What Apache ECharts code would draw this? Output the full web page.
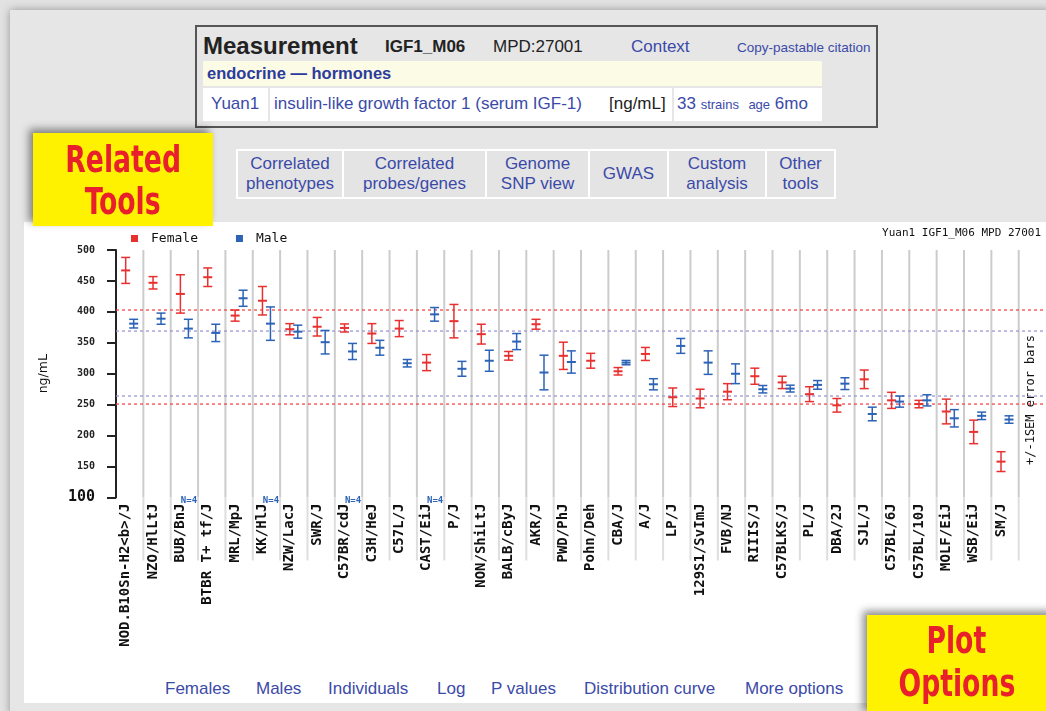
<!DOCTYPE html>
<html>
<head>
<meta charset="utf-8">
<title>IGF1_M06</title>
<script src="https://cdn.jsdelivr.net/npm/echarts@6/dist/echarts.min.js"></script>
<style>
  body { margin:0; width:1046px; height:711px; overflow:hidden; background:#e2e2e2; position:relative; font-family:'Liberation Sans', Arial, sans-serif; }
  .abs { position:absolute; white-space:nowrap; }
  .panel { left:10px; top:10px; width:1040px; height:705px; background:#e6e6e6; box-shadow:0 0 8px rgba(0,0,0,0.35); }
  .white { left:24px; top:222px; width:1022px; height:481px; background:#fff; }
  .hdr { left:195px; top:25px; width:679px; height:99px; border:2px solid #555; background:#e6e6e6; }
  .t { position:absolute; white-space:nowrap; line-height:20px; color:#222; }
  .blue { color:#3b4aa8; }
  .cell { position:absolute; background:#fff; }
  .btnbar { left:236px; top:149px; width:600px; height:50px; background:#fff; }
  .btn { position:absolute; top:2px; height:46px; background:#e4e4e4; color:#3b4aa8; font-size:17px; line-height:20px; text-align:center; display:flex; align-items:center; justify-content:center; }
  .note { position:absolute; background:#fff200; box-shadow:-4px -4px 8px rgba(0,0,0,0.45); color:#e8202c; font-weight:bold; text-align:center; z-index:5; }
  .note span { display:inline-block; transform:scaleX(0.78); font-family:'DejaVu Sans Condensed','Liberation Sans',sans-serif; }
  .links span { position:absolute; top:679px; line-height:20px; font-size:17px; color:#3b4aa8; }
  #chart { position:absolute; left:0; top:0; width:1046px; height:711px; z-index:3; }
</style>
</head>
<body>
<div class="abs panel"></div>
<div class="abs white"></div>

<!-- measurement box -->
<div class="abs hdr"></div>
<div class="t" style="left:203px; top:34px; font-size:24px; line-height:24px; font-weight:bold;">Measurement</div>
<div class="t" style="left:385px; top:37px; font-size:17px; font-weight:bold;">IGF1_M06</div>
<div class="t" style="left:493px; top:37px; font-size:17px;">MPD:27001</div>
<div class="t blue" style="left:631px; top:37px; font-size:17px;">Context</div>
<div class="t blue" style="left:737px; top:38px; font-size:13.5px;">Copy-pastable citation</div>
<div class="cell" style="left:203px; top:61px; width:619px; height:25px; background:#fbfbe6;"></div>
<div class="t" style="left:207px; top:63px; font-size:16.5px; font-weight:bold; color:#2c3b9c;">endocrine — hormones</div>
<div class="cell" style="left:203px; top:88px; width:65px; height:33px;"></div>
<div class="cell" style="left:270px; top:88px; width:402px; height:33px;"></div>
<div class="cell" style="left:674px; top:88px; width:148px; height:33px;"></div>
<div class="t blue" style="left:211px; top:94px; font-size:17px;">Yuan1</div>
<div class="t blue" style="left:274px; top:94px; font-size:17px;">insulin-like growth factor 1 (serum IGF-1)</div>
<div class="t" style="left:609px; top:94px; font-size:17px;">[ng/mL]</div>
<div class="t blue" style="left:677px; top:94px; font-size:17px;">33 <span style="font-size:13px;">strains</span> &nbsp;<span style="font-size:13px;">age</span> 6mo</div>

<!-- related tools buttons -->
<div class="abs btnbar">
  <div class="btn" style="left:2px; width:104px;">Correlated<br>phenotypes</div>
  <div class="btn" style="left:108px; width:141px;">Correlated<br>probes/genes</div>
  <div class="btn" style="left:251px; width:101px;">Genome<br>SNP view</div>
  <div class="btn" style="left:354px; width:77px;">GWAS</div>
  <div class="btn" style="left:433px; width:96px;">Custom<br>analysis</div>
  <div class="btn" style="left:531px; width:67px;">Other<br>tools</div>
</div>

<div class="note" style="left:33px; top:133px; width:180px; height:93px; font-size:38px; line-height:42px; padding-top:5px; box-sizing:border-box;"><span>Related</span><br><span>Tools</span></div>

<div class="links">
  <span style="left:165px;">Females</span>
  <span style="left:256px;">Males</span>
  <span style="left:328px;">Individuals</span>
  <span style="left:437px;">Log</span>
  <span style="left:491px;">P values</span>
  <span style="left:584px;">Distribution curve</span>
  <span style="left:745px;">More options</span>
</div>

<div class="note" style="left:867px; top:615px; width:190px; height:100px; font-size:38px; line-height:43px; padding:4px 11px 0 0; box-sizing:border-box;"><span>Plot</span><br><span>Options</span></div>

<div id="chart"></div>

<script type="text/javascript">
    // strains, ordered as in the plot
    var strains = ['NOD.B10Sn-H2<b>/J', 'NZO/HlLtJ', 'BUB/BnJ', 'BTBR T+ tf/J', 'MRL/MpJ', 'KK/HlJ', 'NZW/LacJ',
        'SWR/J', 'C57BR/cdJ', 'C3H/HeJ', 'C57L/J', 'CAST/EiJ', 'P/J', 'NON/ShiLtJ', 'BALB/cByJ', 'AKR/J',
        'PWD/PhJ', 'Pohn/Deh', 'CBA/J', 'A/J', 'LP/J', '129S1/SvImJ', 'FVB/NJ', 'RIIIS/J', 'C57BLKS/J',
        'PL/J', 'DBA/2J', 'SJL/J', 'C57BL/6J', 'C57BL/10J', 'MOLF/EiJ', 'WSB/EiJ', 'SM/J'];

    // means and +/-1 SEM, ng/mL
    var femaleMean = [467, 447, 429, 456, 394, 418, 372, 376, 374, 365, 373, 318, 385, 364, 329, 380,
        329, 321, 304, 332, 262, 260, 271, 296, 286, 267, 249, 291, 257, 251, 239, 206, 158];
    var femaleSem = [21, 10, 31, 15, 9, 23, 9, 15, 6.5, 16, 13, 13, 27, 16, 7, 8,
        22, 12, 6, 10.5, 15, 15, 13, 13, 10, 12, 11, 15, 13, 6, 20, 19, 16];
    var maleMean = [381, 389, 373, 366, 422, 381, 368, 351, 336, 342, 317, 396, 308, 321, 352, 302,
        319, null, 318, 283, 345, 318, 300, 275, 276, 282, 284, 235, 255, 257, 228, 232, 226];
    var maleSem = [7, 9, 15, 14, 13, 27, 10.5, 19, 13, 12, 6, 11, 12, 17, 13, 28,
        18, null, 3.5, 9, 12, 19, 16, 6, 5.5, 7, 9.5, 11, 9, 9, 14, 6, 6];

    // strains with a small sample note
    var smallN = [2, 5, 8, 11];
    var smallNText = 'N=4';

    // dashed reference lines
    var femaleRef = [403, 251];
    var maleRef = [369, 264];

    var RED = '#e8302f';
    var BLUE = '#2c63b6';
    var MONO = "'DejaVu Sans Mono', monospace";

    var myChart = echarts.init(document.getElementById('chart'));

    function errBars(color, dx) {
        return function (params, api) {
            var i = api.value(0), m = api.value(1), s = api.value(2);
            var c = api.coord([i, m]);
            var hi = api.coord([i, m + s])[1];
            var lo = api.coord([i, m - s])[1];
            var x = c[0] + dx, w = 4.5;
            var st = {stroke: color, lineWidth: 1.5};
            return {
                type: 'group',
                children: [
                    {type: 'line', shape: {x1: x, y1: hi, x2: x, y2: lo}, style: st},
                    {type: 'line', shape: {x1: x - w, y1: hi, x2: x + w, y2: hi}, style: st},
                    {type: 'line', shape: {x1: x - w, y1: lo, x2: x + w, y2: lo}, style: st},
                    {type: 'line', shape: {x1: x - w, y1: c[1], x2: x + w, y2: c[1]}, style: {stroke: color, lineWidth: 2}}
                ]
            };
        };
    }

    function refLines(color) {
        return function (params, api) {
            var y = api.coord([0, api.value(1)])[1];
            var cs = params.coordSys;
            return {
                type: 'line',
                shape: {x1: cs.x, y1: y, x2: cs.x + cs.width + 28, y2: y},
                style: {stroke: color, lineWidth: 1.3, lineDash: [3, 3]}
            };
        };
    }

    var femaleData = [], maleData = [];
    strains.forEach(function (s, i) {
        femaleData.push([i, femaleMean[i], femaleSem[i]]);
        if (maleMean[i] != null) maleData.push([i, maleMean[i], maleSem[i]]);
    });

    myChart.setOption({
        animation: false,
        title: {
            text: 'Yuan1 IGF1_M06 MPD 27001',
            right: 0,
            top: 223,
            textStyle: {fontFamily: MONO, fontSize: 11, fontWeight: 'normal', color: '#111'}
        },
        legend: {
            data: ['Female', 'Male'],
            left: 126,
            top: 227,
            icon: 'rect',
            itemWidth: 7,
            itemHeight: 7,
            itemGap: 38,
            textStyle: {fontFamily: MONO, fontSize: 13, color: '#111', padding: [0, 0, 0, 8]}
        },
        grid: {left: 116, right: 27.3, top: 250, bottom: 213.5, outerBoundsMode: 'none'},
        xAxis: {
            type: 'category',
            data: strains,
            axisLine: {show: false},
            axisTick: {show: false},
            splitLine: {show: false},
            axisLabel: {
                interval: 0,
                rotate: 90,
                margin: 6,
                fontFamily: MONO,
                fontSize: 14,
                fontWeight: 'bold',
                color: '#111',
                formatter: function (v) { return '{a|' + v + '}'; },
                rich: {a: {fontFamily: MONO, fontSize: 14, fontWeight: 'bold', color: '#111', padding: [0, 0, 8, 0]}}
            }
        },
        yAxis: {
            type: 'value',
            min: 100,
            max: 500,
            interval: 50,
            name: 'ng/mL',
            nameLocation: 'middle',
            nameGap: 66,
            nameTextStyle: {fontFamily: "'DejaVu Sans', sans-serif", fontSize: 12.5, color: '#111'},
            axisLine: {show: true, lineStyle: {color: '#222', width: 2}},
            axisTick: {show: true, length: 9, lineStyle: {color: '#222', width: 2}},
            splitLine: {show: false},
            axisLabel: {
                margin: 21,
                fontFamily: MONO,
                fontSize: 10,
                fontWeight: 'bold',
                color: '#222',
                formatter: function (v) { return v === 100 ? '{big|100}' : v; },
                rich: {big: {fontFamily: MONO, fontSize: 15, fontWeight: 'bold', color: '#111'}}
            }
        },
        graphic: [{
            type: 'text',
            x: 1031,
            y: 400,
            rotation: Math.PI / 2,
            style: {text: '+/-1SEM error bars', font: '12px ' + MONO, fill: '#111', align: 'center', verticalAlign: 'middle'}
        }],
        series: [
            {
                // column separators
                type: 'custom',
                silent: true,
                z: 1,
                data: strains.map(function (s, i) { return [i, 100]; }),
                renderItem: function (params, api) {
                    var i = api.value(0);
                    var c = api.coord([i, 100]);
                    var x = c[0] + api.size([1, 0])[0] / 2;
                    var cs = params.coordSys;
                    return {
                        type: 'group',
                        children: [
                            {type: 'line', shape: {x1: x, y1: cs.y, x2: x, y2: cs.y + cs.height}, style: {stroke: '#cccccc', lineWidth: 2}},
                            {type: 'line', shape: {x1: x, y1: cs.y + cs.height, x2: x, y2: cs.y + cs.height + 63}, style: {stroke: '#dedede', lineWidth: 2}}
                        ]
                    };
                }
            },
            {
                type: 'custom', silent: true, z: 2,
                data: femaleRef.map(function (v) { return [0, v]; }),
                renderItem: refLines('#f04a4a')
            },
            {
                type: 'custom', silent: true, z: 2,
                data: maleRef.map(function (v) { return [0, v]; }),
                renderItem: refLines('#9a98d6')
            },
            {
                type: 'custom', silent: true, z: 4,
                data: smallN.map(function (i) { return [i, 100]; }),
                renderItem: function (params, api) {
                    var i = api.value(0);
                    var c = api.coord([i, 100]);
                    var x = c[0] + api.size([1, 0])[0] / 2 - 1;
                    return {type: 'text', x: x, y: c[1] + 3, style: {text: smallNText, font: 'bold 9px ' + MONO, fill: BLUE, align: 'right', verticalAlign: 'middle'}};
                }
            },
            {
                name: 'Female',
                type: 'custom',
                z: 5,
                itemStyle: {color: RED},
                data: femaleData,
                renderItem: errBars(RED, -4)
            },
            {
                name: 'Male',
                type: 'custom',
                z: 5,
                itemStyle: {color: BLUE},
                data: maleData,
                renderItem: errBars(BLUE, 4)
            }
        ]
    });
</script>
</body>
</html>
